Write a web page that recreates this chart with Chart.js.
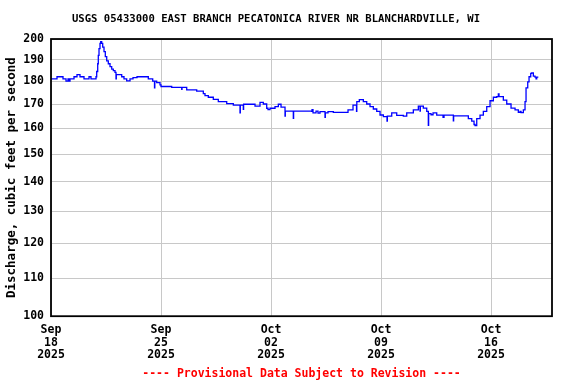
<!DOCTYPE html>
<html>
<head>
<meta charset="utf-8">
<script src="https://cdn.jsdelivr.net/npm/chart.js@4/dist/chart.umd.min.js"></script>
<style>
  html, body { margin: 0; padding: 0; background: #fff; }
  #wrap { width: 576px; height: 384px; }
</style>
</head>
<body>
<div id="wrap"><canvas id="myChart" width="576" height="384"></canvas></div>
<script>
// days since Sep 18 2025 00:00
var days = [0, 0.382, 0.764, 0.955, 1.082, 1.145, 1.209, 1.464, 1.655, 1.845, 2.100, 2.418, 2.545,
  2.864, 2.908, 2.972, 3.010, 3.055, 3.118, 3.163, 3.226, 3.290, 3.373, 3.456, 3.545, 3.646, 3.755,
  3.863, 3.965, 4.073, 4.136, 4.155, 4.499, 4.645, 4.817, 5.027, 5.218, 5.473, 6.192, 6.472, 6.586,
  6.606, 6.726, 6.936, 7.000, 7.681, 8.318, 8.336, 8.636, 9.272, 9.692, 9.800, 10.010, 10.328,
  10.646, 11.181, 11.601, 12.027, 12.046, 12.237, 12.256, 12.982, 13.300, 13.510, 13.726, 13.809,
  13.936, 14.255, 14.465, 14.637, 14.891, 14.910, 15.419, 15.438, 16.590, 16.609, 16.673, 16.864,
  16.991, 17.118, 17.436, 17.455, 17.627, 17.965, 18.900, 19.218, 19.441, 19.460, 19.619, 19.874,
  20.090, 20.300, 20.510, 20.727, 20.937, 21.147, 21.382, 21.401, 21.681, 21.999, 22.419, 22.636,
  23.056, 23.374, 23.482, 23.501, 23.692, 23.909, 24.010, 24.030, 24.182, 24.310, 24.545, 24.946,
  25.010, 25.602, 25.621, 26.556, 26.773, 26.919, 26.983, 27.091, 27.301, 27.511, 27.727, 27.937,
  28.147, 28.363, 28.465, 28.509, 28.783, 29.000, 29.273, 29.528, 29.737, 29.846, 29.909, 30.056,
  30.164, 30.228, 30.336, 30.419, 30.527, 30.591, 30.692, 30.800, 30.864, 30.909, 31.010];
// discharge, cubic feet per second
var flow = [181, 182, 181, 180, 181, 180, 181, 182, 183, 182, 181, 182, 181,
  182, 184.4, 188, 192, 195.3, 197.8, 198.7, 197.8, 196, 193.8, 191.4, 189.4, 188, 186.7,
  185.5, 184.8, 184, 181, 183, 182, 181, 180.1, 181, 181.6, 182, 181, 180, 177,
  180, 179.3, 178.3, 177.6, 177.2, 176.4, 177.2, 176.1, 175.6, 174.5, 173.6, 172.9, 172,
  171, 170.2, 169.5, 166.3, 169.5, 167.7, 169.9, 169.1, 170.7, 170, 168.2, 167.6,
  168.2, 168.9, 169.9, 168.7, 164.9, 167, 164, 167, 166.9, 167.6, 166.3, 167,
  166.2, 166.8, 164.4, 166.3, 166.8, 166.5, 167.5, 169.5, 166.9, 171, 171.9, 171,
  170, 168.9, 167.9, 166.9, 165.4, 164.7, 162.9, 164.9, 166.3, 165.2, 164.9, 166.3,
  167.5, 169.1, 167, 169.1, 168.3, 166.9, 161.2, 166, 165.5, 166.3, 165.3, 164.4,
  165.3, 163, 165, 163.9, 162.9, 161.5, 161.1, 163.9, 165.3, 166.9, 168.9, 171.4,
  172.9, 173.2, 174.3, 173.2, 171.7, 170, 168.3, 167.5, 166.5, 166.9, 166.4, 167.5,
  171, 177, 179.7, 182, 183.5, 183.8, 182.3, 181.8, 181, 181.8, 181.8];

var xTickDays = [0, 7, 14, 21, 28];
var xTickLabels = [['Sep', '18', '2025'], ['Sep', '25', '2025'], ['Oct', '02', '2025'],
  ['Oct', '09', '2025'], ['Oct', '16', '2025']];
var yTicks = [100, 110, 120, 130, 140, 150, 160, 170, 180, 190, 200];

var mono = 'DejaVu Sans Mono';

// black frame round the plot
var frame = {
  id: 'frame',
  afterDraw: function (chart) {
    var a = chart.chartArea, c = chart.ctx;
    c.save();
    c.strokeStyle = '#000';
    c.lineWidth = 1.8;
    c.strokeRect(a.left, a.top, a.right - a.left, a.bottom - a.top);
    c.restore();
  }
};

var ctx = document.getElementById('myChart').getContext('2d');
var myChart = new Chart(ctx, {
  type: 'line',
  data: {
    datasets: [{
      data: days.map(function (d, i) { return { x: d, y: flow[i] }; }),
      borderColor: '#0000ff',
      borderWidth: 1.3,
      pointRadius: 0,
      stepped: true,
      fill: false
    }]
  },
  options: {
    responsive: false,
    animation: false,
    layout: { padding: { left: 0, right: 24, top: 0, bottom: 0 } },
    plugins: {
      legend: { display: false },
      tooltip: { enabled: false },
      title: {
        display: true,
        text: 'USGS 05433000 EAST BRANCH PECATONICA RIVER NR BLANCHARDVILLE, WI',
        color: '#000',
        font: { family: mono, size: 10.6, weight: 'bold', lineHeight: 1.2 },
        padding: { top: 13, bottom: 13.3 }
      },
      subtitle: {
        display: true,
        fullSize: false,
        position: 'bottom',
        text: '---- Provisional Data Subject to Revision ----',
        color: '#ff0000',
        font: { family: mono, size: 11.5, weight: 'bold', lineHeight: 1.2 },
        padding: { top: 0, bottom: 3 }
      }
    },
    scales: {
      x: {
        type: 'linear',
        min: 0,
        max: 31.88,
        afterBuildTicks: function (s) {
          s.ticks = xTickDays.map(function (v) { return { value: v }; });
        },
        afterFit: function (s) { s.height = 51; },
        grid: { color: '#c8c8c8', drawTicks: false },
        border: { display: false },
        ticks: {
          color: '#000',
          padding: 8,
          maxRotation: 0,
          autoSkip: false,
          font: { family: mono, size: 11.5, weight: 'bold', lineHeight: 1.087 },
          callback: function (v) {
            var i = xTickDays.indexOf(v);
            return i >= 0 ? xTickLabels[i] : '';
          }
        }
      },
      y: {
        type: 'logarithmic',
        min: 100,
        max: 200,
        afterBuildTicks: function (s) {
          s.ticks = yTicks.map(function (v) { return { value: v }; });
        },
        afterFit: function (s) { s.width = 51; },
        grid: { color: '#c8c8c8', drawTicks: false },
        border: { display: false },
        ticks: {
          color: '#000',
          padding: 7,
          autoSkip: false,
          font: { family: mono, size: 11.5, weight: 'bold' },
          callback: function (v) { return String(v); }
        },
        title: {
          display: true,
          text: 'Discharge, cubic feet per second',
          color: '#000',
          padding: { top: 4, bottom: 0 },
          font: { family: mono, size: 12.5, weight: 'bold', lineHeight: 1.2 }
        }
      }
    }
  },
  plugins: [frame]
});
</script>
</body>
</html>
